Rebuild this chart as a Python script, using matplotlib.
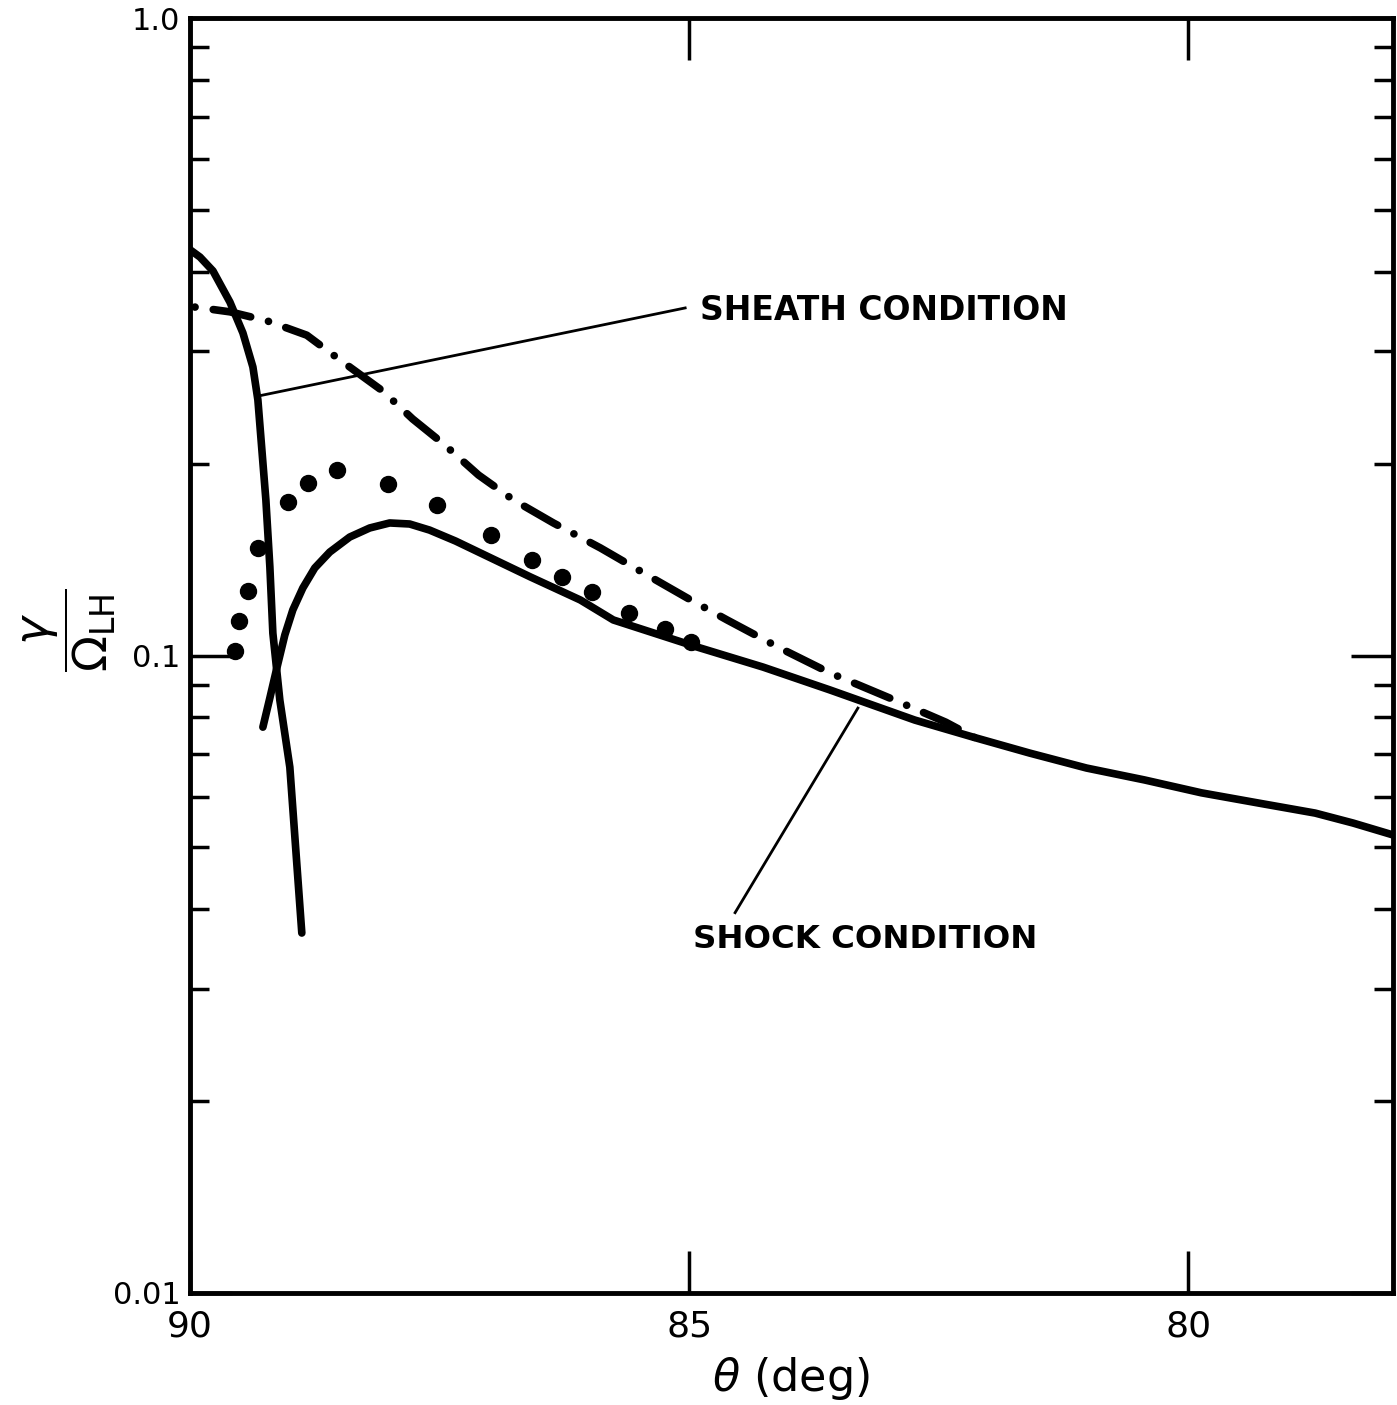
from matplotlib import pyplot as plt
from matplotlib.ticker import FixedLocator, NullFormatter
import numpy as np

# sheath condition (steep solid curve)
sheath_theta = [90.00, 89.90, 89.77, 89.60, 89.47, 89.37, 89.32, 89.28, 89.24, 89.20,
                89.17, 89.10, 89.00, 88.94, 88.88]
sheath_gamma = [0.433, 0.4217, 0.4011, 0.3584, 0.3206, 0.2835, 0.2517, 0.2101, 0.1754, 0.1377,
                0.1084, 0.0851, 0.0668, 0.0495, 0.0367]

# shock condition (solid curve with a hump)
shock_theta = [89.27, 89.20, 89.13, 89.05, 88.97, 88.87, 88.75, 88.60, 88.40, 88.20,
               88.00, 87.80, 87.60, 87.34, 87.09, 86.59, 86.09, 85.76, 84.92, 84.26,
               83.59, 82.74, 82.16, 81.59, 81.02, 80.44, 79.87, 79.30, 78.73, 78.35,
               77.95]
shock_gamma = [0.0772, 0.0858, 0.0956, 0.1077, 0.1179, 0.1276, 0.1372, 0.1453, 0.1534, 0.1585,
               0.1614, 0.1608, 0.1573, 0.1512, 0.1448, 0.1328, 0.1222, 0.1137, 0.1031, 0.0959,
               0.0883, 0.0792, 0.0745, 0.0703, 0.0666, 0.0638, 0.0609, 0.0587, 0.0566, 0.0546,
               0.0523]

# dash-dot curve
dd_theta = [89.95, 89.60, 89.23, 88.83, 88.50, 88.07, 87.77, 87.46, 87.11, 86.76,
            86.36, 85.89, 85.42, 85.02, 84.62, 84.09, 83.59, 82.94, 82.43, 82.13]
dd_gamma = [0.352, 0.346, 0.335, 0.318, 0.291, 0.260, 0.235, 0.2147, 0.1919, 0.1754,
            0.1614, 0.1475, 0.1337, 0.1231, 0.1137, 0.1027, 0.0939, 0.0851, 0.0786, 0.0742]

# dotted curve
dot_theta = [89.55, 89.51, 89.42, 89.32, 89.02, 88.82, 88.53, 88.02, 87.53, 86.99,
             86.57, 86.27, 85.97, 85.60, 85.24, 84.98]
dot_gamma = [0.1016, 0.1133, 0.1262, 0.1475, 0.1741, 0.1865, 0.1954, 0.1858, 0.1722, 0.1545,
             0.1412, 0.1328, 0.1258, 0.1166, 0.1101, 0.1050]

x_ticks = [90, 85, 80]
x_ticklabels = ['90', '85', '80']
y_ticks = [0.01, 0.1, 1.0]
y_ticklabels = ['0.01', '0.1', '1.0']

# annotation leaders: label position, line start, line end
sheath_label = (84.89, 0.3483)
sheath_line = [(85.04, 0.3509), (89.31, 0.2554)]
shock_label = (84.96, 0.0358)
shock_line = [(84.54, 0.0395), (83.31, 0.0827)]

plt.rcParams['font.family'] = 'DejaVu Sans'
plt.rcParams['mathtext.fontset'] = 'dejavusans'

fig = plt.figure(figsize=(13.97, 14.05), dpi=100)
ax = fig.add_axes([190/1397, 1 - 1293/1405, 1203/1397, 1275/1405])

lw = 5.5
ax.plot(sheath_theta, sheath_gamma, color='black', lw=lw, solid_capstyle='round', solid_joinstyle='round')
ax.plot(shock_theta, shock_gamma, color='black', lw=lw, solid_capstyle='round', solid_joinstyle='round')
ax.plot(dd_theta, dd_gamma, color='black', lw=lw, dash_capstyle='round',
        linestyle=(7.4, (5.0, 2.4, 0.01, 2.4)))
ax.plot(dot_theta, dot_gamma, 'o', color='black', markersize=11.5)

for (x0, y0), (x1, y1) in [sheath_line, shock_line]:
    ax.plot([x0, x1], [y0, y1], color='black', lw=2)

ax.text(*sheath_label, 'SHEATH CONDITION', fontsize=23.8, fontweight='bold', ha='left', va='center')
ax.text(*shock_label, 'SHOCK CONDITION', fontsize=23.3, fontweight='bold', ha='left', va='center')

ax.set_yscale('log')
ax.set_xlim(90, 77.95)
ax.set_ylim(0.01, 1.0)

ax.set_xticks(x_ticks)
ax.set_xticklabels(x_ticklabels)
ax.set_yticks(y_ticks)
ax.set_yticklabels(y_ticklabels)
ax.yaxis.set_minor_locator(FixedLocator(
    [m * d for d in (0.01, 0.1) for m in range(2, 10)]))
ax.yaxis.set_minor_formatter(NullFormatter())

ax.tick_params(axis='x', which='major', direction='in', length=30, width=2.5,
               top=True, labelsize=26, pad=12)
ax.tick_params(axis='y', which='major', direction='in', length=30, width=2.5,
               right=True, labelsize=22, pad=7)
ax.tick_params(axis='y', which='minor', direction='in', length=14, width=2.5, right=True)

for sp in ax.spines.values():
    sp.set_linewidth(3.5)

ax.set_xlabel(r'$\theta$ (deg)', fontsize=32, labelpad=8)
ax.set_ylabel(r'$\dfrac{\gamma}{\Omega_{\mathrm{LH}}}$', fontsize=34)
ax.yaxis.set_label_coords(-0.06, 0.52)

plt.savefig('out.png', dpi=100)
